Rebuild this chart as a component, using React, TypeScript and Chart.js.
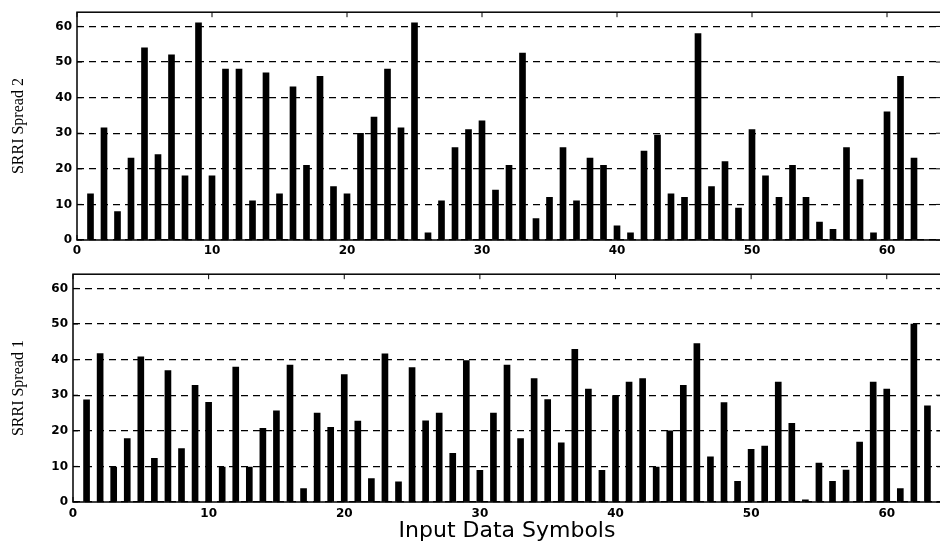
import { useEffect, useRef } from "react";
import { Chart, registerables } from "chart.js";

Chart.register(...registerables);

const symbols = [
  1, 2, 3, 4, 5, 6, 7, 8, 9, 10, 11, 12, 13, 14, 15, 16, 17, 18, 19, 20, 21,
  22, 23, 24, 25, 26, 27, 28, 29, 30, 31, 32, 33, 34, 35, 36, 37, 38, 39, 40,
  41, 42, 43, 44, 45, 46, 47, 48, 49, 50, 51, 52, 53, 54, 55, 56, 57, 58, 59,
  60, 61, 62, 63,
];

const spread2 = [
  13, 31.5, 8, 23, 54, 24, 52, 18, 61, 18, 48, 48, 11, 47, 13, 43, 21, 46, 15,
  13, 30, 34.5, 48, 31.5, 61, 2, 11, 26, 31, 33.5, 14, 21, 52.5, 6, 12, 26, 11,
  23, 21, 4, 2, 25, 29.5, 13, 12, 58, 15, 22, 9, 31, 18, 12, 21, 12, 5, 3, 26,
  17, 2, 36, 46, 23, 0,
];

const spread1 = [
  28.7, 41.7, 9.8, 17.8, 40.8, 12.3, 36.9, 15, 32.8, 28, 9.8, 37.9, 9.8, 20.7,
  25.6, 38.5, 3.8, 25, 21, 35.8, 22.7, 6.6, 41.6, 5.7, 37.8, 22.8, 25, 13.7,
  39.7, 8.9, 25, 38.5, 17.8, 34.7, 28.8, 16.6, 42.9, 31.7, 8.9, 29.9, 33.7,
  34.7, 9.8, 20, 32.8, 44.5, 12.7, 27.9, 5.8, 14.8, 15.7, 33.7, 22.1, 0.6,
  10.9, 5.8, 9, 16.8, 33.7, 31.7, 3.8, 50, 27,
];

const xTicks = [0, 10, 20, 30, 40, 50, 60];
const yTicks = [0, 10, 20, 30, 40, 50, 60];

const framePlugin = {
  id: "frame",
  afterDraw(chart: any) {
    const { ctx, chartArea: a, scales } = chart;
    ctx.save();
    ctx.strokeStyle = "#000";
    ctx.setLineDash([]);
    ctx.lineWidth = 1.5;
    ctx.strokeRect(a.left, a.top, a.right - a.left, a.bottom - a.top);
    ctx.lineWidth = 1;
    const L = 5;
    const line = (x1: number, y1: number, x2: number, y2: number) => {
      ctx.beginPath();
      ctx.moveTo(x1, y1);
      ctx.lineTo(x2, y2);
      ctx.stroke();
    };
    xTicks.forEach((v) => {
      const px = scales.x.getPixelForValue(v);
      line(px, a.bottom, px, a.bottom - L);
      line(px, a.top, px, a.top + L);
    });
    yTicks.forEach((v) => {
      const py = scales.y.getPixelForValue(v);
      line(a.left, py, a.left + L, py);
      line(a.right, py, a.right - L, py);
    });
    ctx.restore();
  },
};

type PanelProps = {
  values: number[];
  yTitle: string;
  xTitle?: string;
  canvasTop: number;
  height: number;
  axisLeft: number;
  plotTop: number;
  plotBottom: number;
  xTickPad: number;
};

const W = 950;

function Panel(p: PanelProps) {
  const ref = useRef<HTMLCanvasElement | null>(null);
  useEffect(() => {
    if (!ref.current) return;
    const tickFont = { family: "'DejaVu Sans', sans-serif", size: 12, weight: "bold" as const };
    const chart = new Chart(ref.current, {
      type: "bar",
      data: {
        datasets: [
          {
            data: symbols.map((s, i) => ({ x: s, y: p.values[i] })),
            backgroundColor: "#000",
            borderWidth: 0,
            barThickness: 6,
          } as any,
        ],
      },
      options: {
        animation: false,
        responsive: false,
        layout: { padding: { top: p.plotTop, right: 9, left: 0, bottom: 0 } },
        plugins: { legend: { display: false }, tooltip: { enabled: false } },
        scales: {
          x: {
            type: "linear",
            min: 0,
            max: 64,
            offset: false,
            grid: { display: false, drawTicks: false },
            border: { display: false },
            ticks: { stepSize: 10, color: "#000", font: tickFont, padding: p.xTickPad, maxRotation: 0 },
            afterBuildTicks: (s: any) => {
              s.ticks = s.ticks.filter((t: any) => t.value % 10 === 0 && t.value <= 60);
            },
            afterFit: (s: any) => {
              s.height = p.height - p.plotBottom;
            },
            title: p.xTitle
              ? {
                  display: true,
                  text: p.xTitle,
                  color: "#000",
                  font: { family: "'DejaVu Sans', sans-serif", size: 22 },
                  padding: { top: 0, bottom: 1 },
                }
              : { display: false },
          },
          y: {
            min: 0,
            max: 64,
            grid: { display: true, color: "#000", lineWidth: 1.2, drawTicks: false },
            border: { display: false, dash: [7, 5] },
            ticks: { stepSize: 10, color: "#000", font: tickFont, padding: 5 },
            afterBuildTicks: (s: any) => {
              s.ticks = s.ticks.filter((t: any) => t.value % 10 === 0 && t.value <= 60);
            },
            afterFit: (s: any) => {
              s.width = p.axisLeft;
            },
            title: {
              display: true,
              text: p.yTitle,
              color: "#000",
              font: { family: "'Liberation Serif', serif", size: 16 },
              padding: { top: 9, bottom: 0 },
            },
          },
        },
      },
      plugins: [framePlugin],
    });
    return () => chart.destroy();
  }, []);
  return (
    <canvas
      ref={ref}
      width={W}
      height={p.height}
      style={{ position: "absolute", left: 0, top: p.canvasTop, width: W, height: p.height }}
    />
  );
}

export default function App() {
  return (
    <div
      style={{
        position: "fixed",
        left: 0,
        top: 0,
        width: 940,
        height: 545,
        overflow: "hidden",
        background: "#fff",
      }}
    >
      <Panel
        values={spread2}
        yTitle="SRRI Spread 2"
        canvasTop={0}
        height={262}
        axisLeft={77}
        plotTop={5}
        plotBottom={240}
        xTickPad={4}
      />
      <Panel
        values={spread1}
        yTitle="SRRI Spread 1"
        xTitle="Input Data Symbols"
        canvasTop={262}
        height={283}
        axisLeft={73}
        plotTop={6}
        plotBottom={240}
        xTickPad={5}
      />
    </div>
  );
}
